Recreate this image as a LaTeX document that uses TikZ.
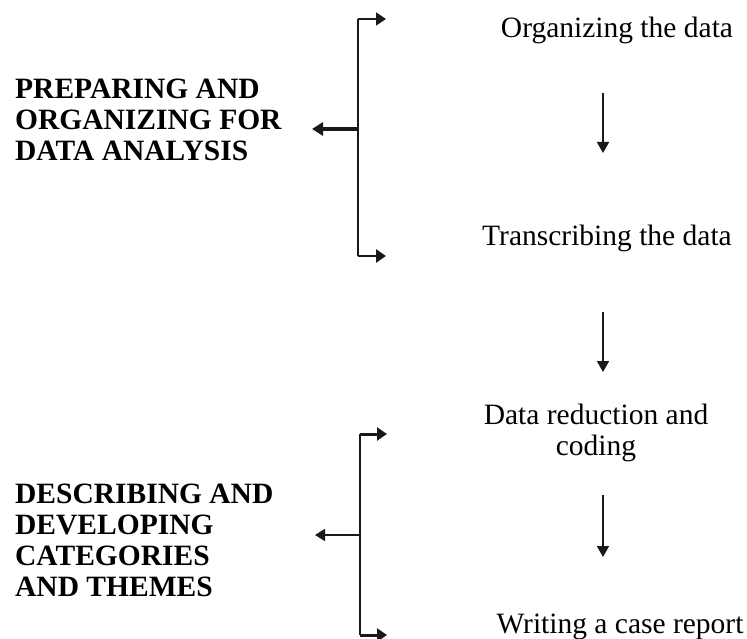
\documentclass[tikz,border=0pt]{standalone}
\usepackage{fontspec}
\setmainfont{Liberation Serif}
\usetikzlibrary{arrows.meta}
\begin{document}
\begin{tikzpicture}[x=1pt,y=-1pt,
  ink/.style={draw=black!90},
  brk/.style={ink,line width=1.6pt},
  tipR/.style={-{Triangle[length=10pt,width=13pt]}},
  downarr/.style={ink,line width=1.6pt,-{Triangle[length=11pt,width=12pt]}},
  head/.style={font=\fontsize{29.5}{31}\selectfont\bfseries,align=left,inner sep=0pt,anchor=west},
  step text/.style={font=\fontsize{29.5}{31}\selectfont,align=center,inner sep=0pt,anchor=base}]
\useasboundingbox (0,0) rectangle (747,639);
% right-hand texts
\node[step text] (org) at (617,38) {Organizing the data};
\node[step text] (tra) at (607,245) {Transcribing the data};
\node[step text] (red) at (596,455) {Data reduction and\\coding};
\node[step text] (wri) at (620,633) {Writing a case report};
% left-hand headings
\node[head] (prep) at (15,120) {PREPARING AND\\ORGANIZING FOR\\DATA ANALYSIS};
\node[head] (desc) at (15,540) {DESCRIBING AND\\DEVELOPING\\CATEGORIES\\AND THEMES};
% top bracket
\coordinate (t1) at (358,19);
\coordinate (t2) at (358,256);
\coordinate (tm) at (358,129);
\coordinate (t1e) at (386,19);
\coordinate (t2e) at (386,256);
\coordinate (tl) at (312,129);
\draw[brk] (t1) -- (t2);
\draw[ink,line width=1.8pt,tipR] (t1) -- (t1e);
\draw[ink,line width=2.4pt,tipR] (t2) -- (t2e);
\draw[ink,line width=3.2pt,-{Triangle[length=11pt,width=13pt]}] (tm) -- (tl);
% bottom bracket
\coordinate (b1) at (360,434);
\coordinate (b2) at (360,635);
\coordinate (bm) at (360,535);
\coordinate (b1e) at (387,434);
\coordinate (b2e) at (387,635);
\coordinate (bl) at (315,535);
\draw[brk] (b1) -- (b2);
\draw[ink,line width=3pt,tipR] (b1) -- (b1e);
\draw[ink,line width=3pt,tipR] (b2) -- (b2e);
\draw[ink,line width=1.8pt,-{Triangle[length=10pt,width=12pt]}] (bm) -- (bl);
% vertical flow arrows
\coordinate (a1s) at (603,93);
\coordinate (a1e) at (603,153);
\coordinate (a2s) at (603,312);
\coordinate (a2e) at (603,372);
\coordinate (a3s) at (603,495);
\coordinate (a3e) at (603,557);
\draw[downarr] (a1s) -- (a1e);
\draw[downarr] (a2s) -- (a2e);
\draw[downarr] (a3s) -- (a3e);
\end{tikzpicture}
\end{document}
